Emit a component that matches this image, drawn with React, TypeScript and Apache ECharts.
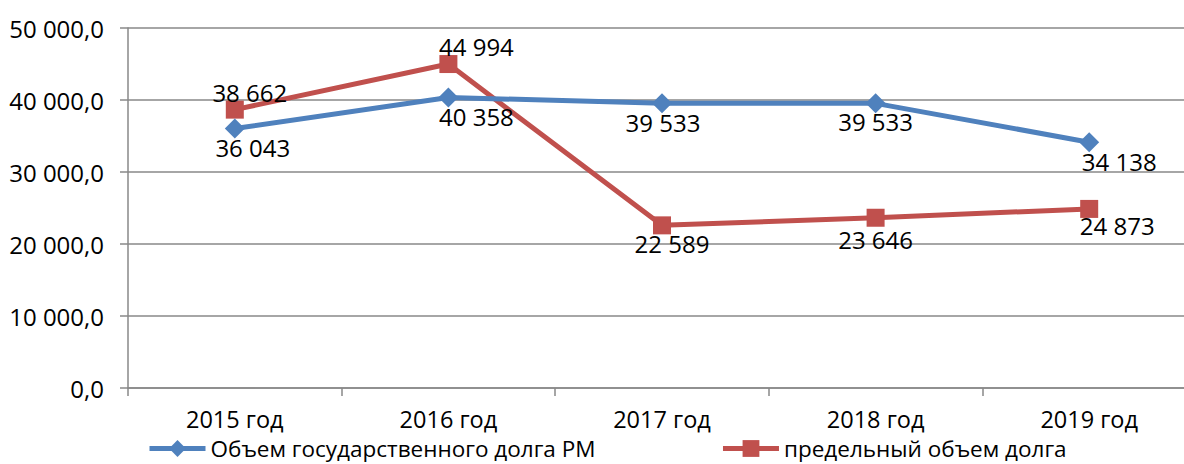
import React, { useEffect, useRef } from "react";
import * as echarts from "echarts";

const categories = ["2015 год", "2016 год", "2017 год", "2018 год", "2019 год"];
const debtVolume = [36043, 40358, 39533, 39533, 34138];
const debtLimit = [38662, 44994, 22589, 23646, 24873];
const seriesNames = ["Объем государственного долга РМ", "предельный объем долга"];
const yTicks = { min: 0, max: 50000, interval: 10000 };

// label offsets (style only)
const blueOffsets = [[18, 19], [28, 19], [1, 19], [0, 18], [30, 19]];
const redOffsets = [[15, -17], [28, -18], [10, 18], [0, 22], [28, 17]];

const FONT = "'Open Sans', 'Liberation Sans', sans-serif";

const fmtThousands = (v: number) =>
  String(Math.round(v)).replace(/\B(?=(\d{3})+(?!\d))/g, " ");

export default function App() {
  const ref = useRef<HTMLDivElement>(null);
  useEffect(() => {
    if (!ref.current) return;
    const chart = echarts.init(ref.current, undefined, { renderer: "svg" });
    const mkData = (vals: number[], offs: number[][]) =>
      vals.map((v, i) => ({
        value: v,
        label: { offset: offs[i] },
      }));
    chart.setOption({
      animation: false,
      backgroundColor: "#ffffff",
      grid: {
        left: 128,
        top: 28,
        width: 1068,
        height: 360,
        containLabel: false,
        outerBoundsMode: "none",
      },
      legend: {
        top: 437,
        left: 147,
        itemGap: 125,
        itemWidth: 56,
        itemHeight: 21,
        padding: 0,
        lineStyle: { width: 5 },
        textStyle: { fontFamily: FONT, fontSize: 22.5, lineHeight: 21, color: "#000" },
        data: [seriesNames[0], seriesNames[1]],
      },
      xAxis: {
        type: "category",
        data: categories,
        boundaryGap: true,
        axisLine: { lineStyle: { color: "#888", width: 1.5 } },
        axisTick: { show: true, length: 8, lineStyle: { color: "#888", width: 1.5 } },
        axisLabel: {
          fontFamily: FONT,
          fontSize: 23.5,
          lineHeight: 22,
          color: "#000",
          margin: 20,
        },
      },
      yAxis: {
        type: "value",
        min: yTicks.min,
        max: yTicks.max,
        interval: yTicks.interval,
        axisLine: { show: true, lineStyle: { color: "#888", width: 1.5 } },
        axisTick: { show: true, length: 8, lineStyle: { color: "#888", width: 1.5 } },
        splitLine: { lineStyle: { color: "#888", width: 1.5 } },
        axisLabel: {
          fontFamily: FONT,
          fontSize: 24,
          color: "#000",
          margin: 24,
          formatter: (v: number) => fmtThousands(v) + ",0",
        },
      },
      series: [
        {
          name: seriesNames[0],
          type: "line",
          data: mkData(debtVolume, blueOffsets),
          color: "#4F81BD",
          lineStyle: { width: 5, color: "#4F81BD" },
          symbol: "diamond",
          symbolSize: 20,
          itemStyle: { color: "#4F81BD" },
          z: 3,
          label: {
            show: true,
            position: "inside",
            align: "center",
            verticalAlign: "middle",
            fontFamily: FONT,
            fontSize: 24,
            color: "#000",
            formatter: (p: any) => fmtThousands(p.value),
          },
        },
        {
          name: seriesNames[1],
          type: "line",
          data: mkData(debtLimit, redOffsets),
          color: "#C0504D",
          lineStyle: { width: 5, color: "#C0504D" },
          symbol: "rect",
          symbolSize: 18,
          itemStyle: { color: "#C0504D" },
          z: 2,
          label: {
            show: true,
            position: "inside",
            align: "center",
            verticalAlign: "middle",
            fontFamily: FONT,
            fontSize: 24,
            color: "#000",
            formatter: (p: any) => fmtThousands(p.value),
          },
        },
      ],
    });
    return () => chart.dispose();
  }, []);
  return (
    <div
      ref={ref}
      style={{ position: "absolute", left: 0, top: 0, width: 1184, height: 464 }}
    />
  );
}
